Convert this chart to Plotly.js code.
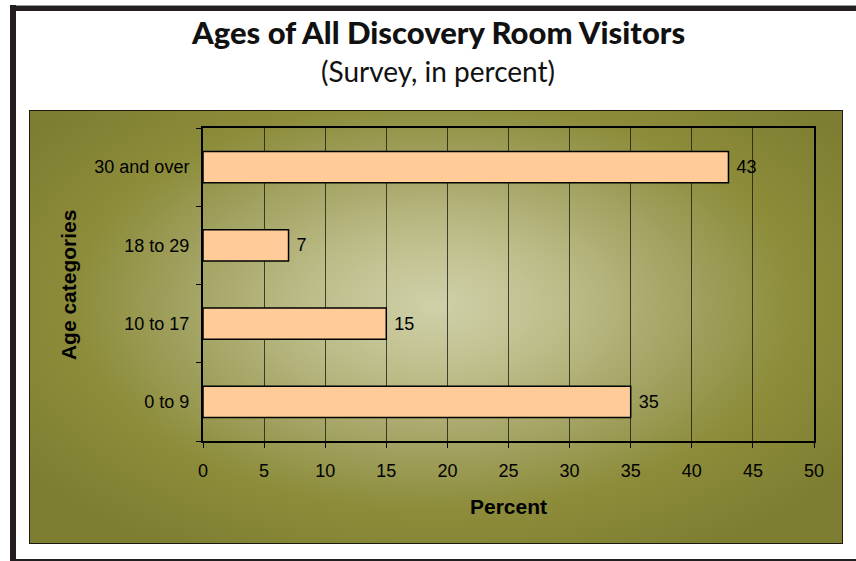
<!DOCTYPE html>
<html>
<head>
<meta charset="utf-8">
<script src="https://cdn.plot.ly/plotly-3.0.1.min.js"></script>
<style>
  html, body { margin: 0; padding: 0; background: #ffffff; }
  #wrap { position: relative; width: 856px; height: 561px; overflow: hidden; background: #ffffff; }
  #frameTop { position: absolute; left: 10px; top: 5px; width: 846px; height: 5px; background: #231f20; border-top: 1px solid #999; }
  #frameLeft { position: absolute; left: 10px; top: 5px; width: 6px; height: 556px; background: #231f20; }
  #frameBottom { position: absolute; left: 10px; top: 559px; width: 846px; height: 2px; background: #231f20; }
  #panel { position: absolute; left: 29px; top: 110px; width: 812px; height: 432px;
           border: 1.5px solid #1a1a10;
           background: radial-gradient(ellipse 62% 66% at 50% 45%, #d0d0aa 0%, #bdbd8a 25%, #a2a262 50%, #8c8c3a 72%, #7e7e32 100%); }
  #chart { position: absolute; left: 0; top: 0; width: 856px; height: 561px; }
</style>
</head>
<body>
<div id="wrap">
  <div id="frameTop"></div>
  <div id="frameLeft"></div>
  <div id="frameBottom"></div>
  <div id="panel"></div>
  <div id="chart"></div>
</div>
<script>
const categories = ['0 to 9', '10 to 17', '18 to 29', '30 and over'];
const percents = [35, 15, 7, 43];
const xTickValues = [0, 5, 10, 15, 20, 25, 30, 35, 40, 45, 50];

const trace = {
  type: 'bar',
  orientation: 'h',
  y: categories,
  x: percents,
  text: percents.map(v => '\u00a0' + v),
  textposition: 'outside',
  cliponaxis: false,
  textfont: { family: 'Liberation Sans, Arial, sans-serif', size: 18, color: '#000000' },
  marker: { color: '#FFCC99', line: { color: '#000000', width: 1.5 } },
  hoverinfo: 'none'
};

const layout = {
  width: 856,
  height: 561,
  margin: { l: 202.5, r: 42, t: 127.5, b: 120, pad: 0 },
  paper_bgcolor: 'rgba(0,0,0,0)',
  plot_bgcolor: 'rgba(0,0,0,0)',
  showlegend: false,
  bargap: 0.6,
  font: { family: 'Liberation Sans, Arial, sans-serif', size: 18, color: '#000000' },
  xaxis: {
    range: [0, 50],
    tickvals: xTickValues,
    ticktext: xTickValues.map(String),
    ticks: 'outside',
    ticklen: 5,
    tickwidth: 1,
    tickcolor: '#000000',
    showgrid: true,
    gridcolor: 'rgba(20,20,10,0.75)',
    gridwidth: 1,
    showline: true,
    linecolor: '#000000',
    linewidth: 2,
    mirror: true,
    zeroline: false,
    fixedrange: true,
    ticklabelstandoff: 7,
    tickfont: { family: 'Liberation Sans, Arial, sans-serif', size: 18, color: '#000000' }
  },
  yaxis: {
    type: 'category',
    categoryorder: 'array',
    categoryarray: categories,
    ticks: 'outside',
    tickson: 'boundaries',
    ticklen: 5,
    tickwidth: 1,
    tickcolor: '#000000',
    showgrid: false,
    showline: true,
    linecolor: '#000000',
    linewidth: 2,
    mirror: true,
    zeroline: false,
    fixedrange: true,
    ticklabelstandoff: 8,
    tickfont: { family: 'Liberation Sans, Arial, sans-serif', size: 18, color: '#000000' }
  },
  annotations: [
    { text: 'Ages of All Discovery Room Visitors', xref: 'paper', yref: 'paper',
      x: 0.384, y: 1.307, xanchor: 'center', yanchor: 'middle', showarrow: false,
      font: { family: 'Lato, Open Sans, sans-serif', size: 31, weight: 900, color: '#111111' } },
    { text: '(Survey, in percent)', xref: 'paper', yref: 'paper',
      x: 0.384, y: 1.182, xanchor: 'center', yanchor: 'middle', showarrow: false,
      font: { family: 'Lato, Open Sans, sans-serif', size: 28, color: '#111111' } },
    { text: '<b>Percent</b>', xref: 'paper', yref: 'paper',
      x: 0.5, y: -0.21, xanchor: 'center', yanchor: 'middle', showarrow: false,
      font: { family: 'Liberation Sans, Arial, sans-serif', size: 21, color: '#000000' } },
    { text: '<b>Age categories</b>', xref: 'paper', yref: 'paper', textangle: -90,
      x: -0.220, y: 0.5, xanchor: 'center', yanchor: 'middle', showarrow: false,
      font: { family: 'Liberation Sans, Arial, sans-serif', size: 21, color: '#000000' } }
  ]
};

Plotly.newPlot('chart', [trace], layout, { staticPlot: true, displayModeBar: false });
</script>
</body>
</html>
